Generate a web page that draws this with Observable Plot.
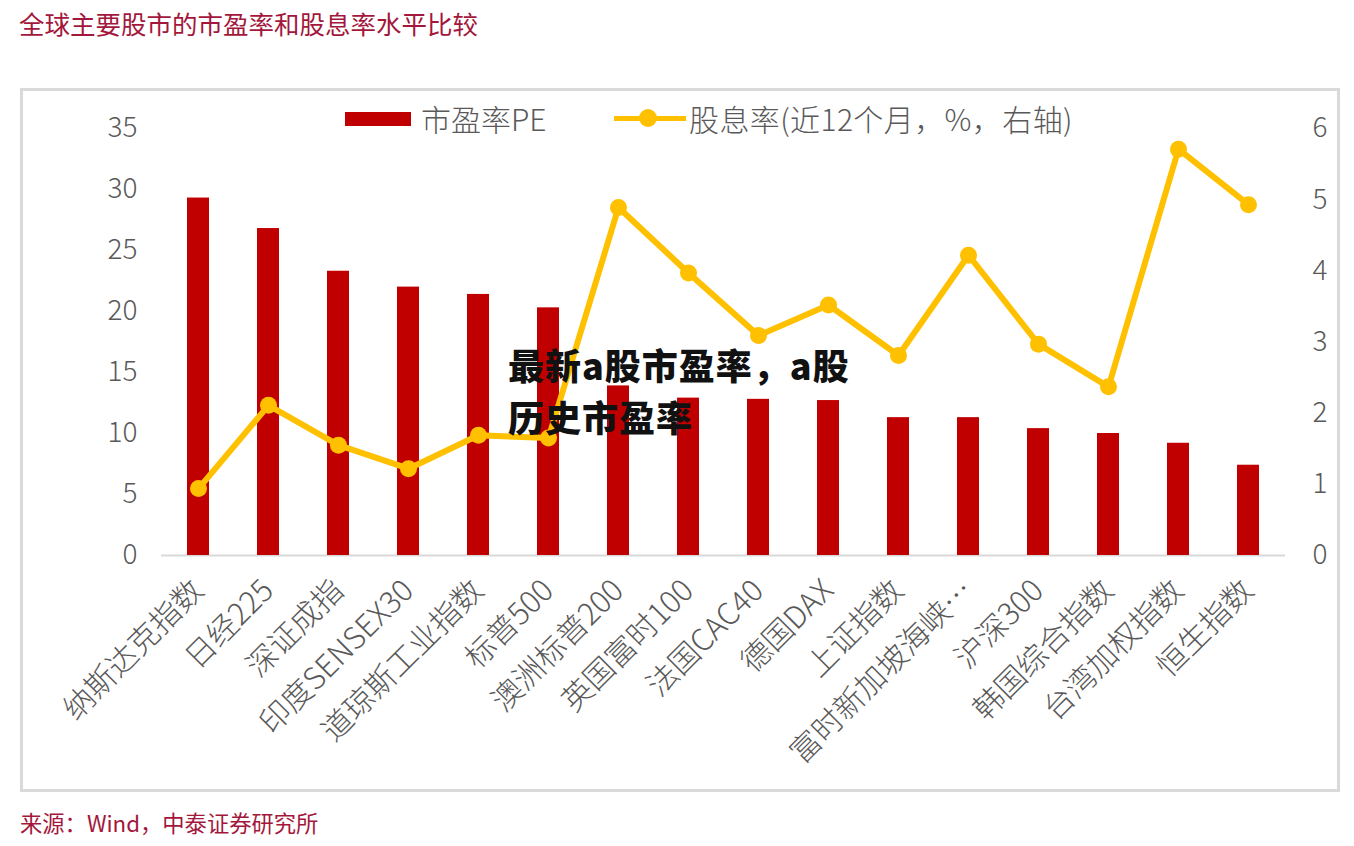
<!DOCTYPE html>
<html><head><meta charset="utf-8">
<script src="https://cdn.jsdelivr.net/npm/d3@7"></script>
<script src="https://cdn.jsdelivr.net/npm/@observablehq/plot@0.6"></script>
<style>
body{margin:0;background:#fff;font-family:"Noto Sans CJK SC","Noto Sans",sans-serif;}
#wrap{position:relative;width:1354px;height:846px;overflow:hidden;background:#fff}
.abs{position:absolute;white-space:nowrap}
#title{left:19px;top:10px;font-size:25.5px;line-height:25px;color:#a3173c}
#caption{left:20px;top:811px;font-size:22.3px;line-height:22px;color:#a3173c}
#box{left:20px;top:88px;width:1320px;height:704px;border:3px solid #d9d9d9;box-sizing:border-box}
#chart{left:20px;top:88px}
.lg{font-size:30px;line-height:30px;color:#595959;font-weight:300}
#overlay{left:508px;top:338px;font-size:36px;line-height:52px;font-weight:900;color:#111;letter-spacing:1px}
</style></head>
<body>
<div id="wrap">
  <div id="title" class="abs">全球主要股市的市盈率和股息率水平比较</div>
  <div id="box" class="abs"></div>
  <div id="chart" class="abs"></div>
  <div class="abs" style="left:345px;top:112px;width:66px;height:14px;background:#c00000"></div>
  <div class="abs lg" style="left:421px;top:103px">市盈率PE</div>
  <div class="abs" style="left:614px;top:116px;width:72px;height:5px;background:#ffc000"></div>
  <div class="abs" style="left:639px;top:109px;width:18px;height:18px;border-radius:9px;background:#ffc000"></div>
  <div class="abs lg" style="left:689px;top:103px;letter-spacing:0.4px">股息率(近12个月，%，右轴)</div>
  <div id="overlay" class="abs">最新a股市盈率，a股<br>历史市盈率</div>
  <div id="caption" class="abs">来源：Wind，中泰证券研究所</div>
</div>
<script>
const categories = ["纳斯达克指数","日经225","深证成指","印度SENSEX30","道琼斯工业指数","标普500","澳洲标普200","英国富时100","法国CAC40","德国DAX","上证指数","富时新加坡海峡…","沪深300","韩国综合指数","台湾加权指数","恒生指数"];
const peValues = [29.3,26.8,23.3,22.0,21.4,20.3,13.9,12.9,12.8,12.7,11.3,11.3,10.4,10.0,9.2,7.4];
const dividendYield = [0.94,2.11,1.55,1.22,1.69,1.65,4.89,3.97,3.09,3.52,2.81,4.22,2.97,2.37,5.71,4.93];
const leftTicks = [0,5,10,15,20,25,30,35];
const rightTicks = [0,1,2,3,4,5,6];

const k = 35/6;
const rows = categories.map((c,i)=>({c, pe: peValues[i], dy: dividendYield[i]}));
const font = '"Noto Sans CJK SC","Noto Sans",sans-serif';
const chart = Plot.plot({
  width:1320, height:704, marginLeft:141, marginRight:55, marginTop:40, marginBottom:237,
  style:{fontFamily:font, fontSize:"28px", fontWeight:"300", color:"#595959", background:"transparent", overflow:"visible"},
  x:{domain:categories, paddingInner:0.687, paddingOuter:0.3435, axis:null},
  y:{domain:[0,35], axis:null},
  marks:[
    Plot.ruleY([0],{stroke:"#d9d9d9", strokeWidth:2}),
    Plot.barY(rows,{x:"c", y:"pe", fill:"#c00000"}),
    Plot.line(rows,{x:"c", y:d=>d.dy*k, stroke:"#ffc000", strokeWidth:6}),
    Plot.dot(rows,{x:"c", y:d=>d.dy*k, r:8.5, fill:"#ffc000"}),
    Plot.axisY({anchor:"left", ticks:leftTicks, tickSize:0, tickPadding:24, fontSize:28, fill:"#595959", label:null}),
    Plot.axisY({anchor:"right", ticks:rightTicks.map(v=>v*k), tickFormat:d=>String(Math.round(d/k)), tickSize:0, tickPadding:27, fontSize:28, fill:"#595959", label:null}),
    Plot.text(categories,{x:d=>d, frameAnchor:"bottom", rotate:-45, textAnchor:"end", lineAnchor:"middle", dx:0, dy:30, fontSize:30.5, fill:"#595959"})
  ]
});
document.getElementById("chart").appendChild(chart);
</script>
</body></html>
